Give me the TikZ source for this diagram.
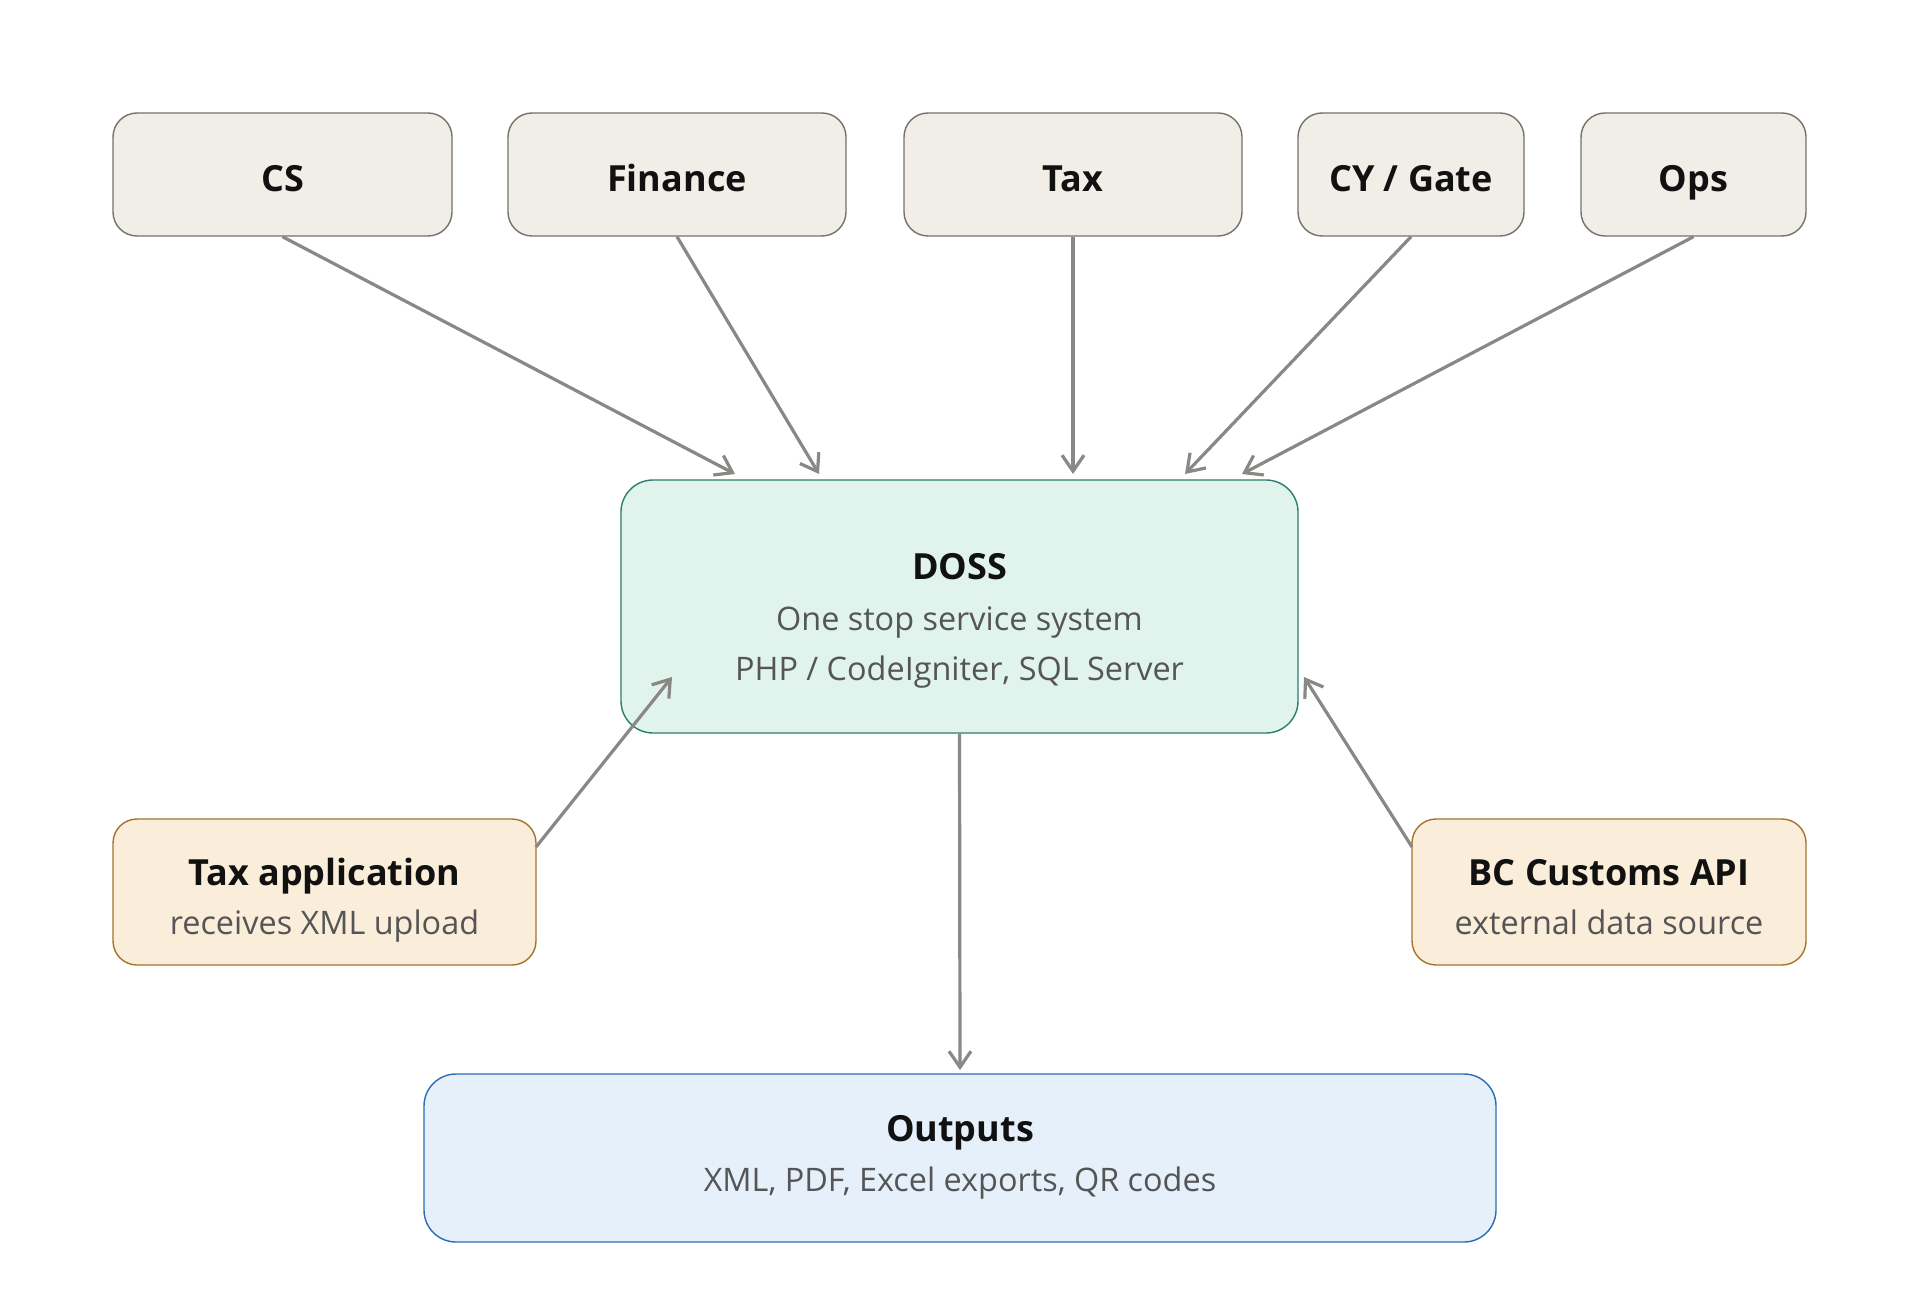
\documentclass[tikz,border=0pt]{standalone}
\usepackage{fontspec}
\setmainfont{Open Sans}
\usetikzlibrary{arrows.meta,calc}
\definecolor{arrowgray}{HTML}{8A8884}
\definecolor{topfill}{HTML}{F1EEE7}
\definecolor{topdraw}{HTML}{75716C}
\definecolor{dossfill}{HTML}{E0F3EC}
\definecolor{dossdraw}{HTML}{2A7F6F}
\definecolor{extfill}{HTML}{FAEDDA}
\definecolor{extdraw}{HTML}{A5732C}
\definecolor{outfill}{HTML}{E6F0FA}
\definecolor{outdraw}{HTML}{2D6DB5}
\definecolor{subtext}{HTML}{555555}
\definecolor{titletext}{HTML}{111111}
\tikzset{
  box/.style={rounded corners=12pt, line width=0.7pt, inner sep=0pt, anchor=center},
  topbox/.style={box, fill=topfill, draw=topdraw, font=\fontsize{18}{22}\selectfont\bfseries, text=titletext, text height=19pt, text depth=1.5pt},
  dossbox/.style={box, fill=dossfill, draw=dossdraw, rounded corners=16pt},
  extbox/.style={box, fill=extfill, draw=extdraw},
  outbox/.style={box, fill=outfill, draw=outdraw, rounded corners=16pt},
  ttl/.style={font=\fontsize{18}{22}\selectfont\bfseries, text=titletext, inner sep=0pt, anchor=base},
  sub/.style={font=\fontsize{16.2}{20}\selectfont, text=subtext, inner sep=0pt, anchor=base},
  conn/.style={draw=arrowgray, line width=1.6pt, -{Straight Barb[length=8pt,width=11pt,line width=1.6pt]}},
}
\begin{document}
\begin{tikzpicture}[x=0.5pt,y=-0.5pt]
\useasboundingbox[fill=white] (0,0) rectangle (1920,1299);
% top boxes
\node[topbox, minimum width=169.5pt, minimum height=61.5pt] (cs) at (282.5,174.5) {CS};
\node[topbox, minimum width=169pt, minimum height=61.5pt] (fin) at (677,174.5) {Finance};
\node[topbox, minimum width=169pt, minimum height=61.5pt] (tax) at (1073,174.5) {Tax};
\node[topbox, minimum width=113pt, minimum height=61.5pt] (cy) at (1411,174.5) {CY / Gate};
\node[topbox, minimum width=112.5pt, minimum height=61.5pt] (ops) at (1693.5,174.5) {Ops};
% DOSS
\node[dossbox, minimum width=338.5pt, minimum height=126.5pt] (doss) at (959.5,606.5) {};
\node[ttl] (dossT) at (959.5,579) {DOSS};
\node[sub] (dossS1) at (959.5,630) {One stop service system};
\node[sub] (dossS2) at (959.5,680.5) {PHP / CodeIgniter, SQL Server};
% externals
\node[extbox, minimum width=211.5pt, minimum height=73pt] (taxapp) at (324.5,892) {};
\node[ttl] (taxappT) at (324.5,885) {Tax application};
\node[sub] (taxappS) at (324.5,934) {receives XML upload};
\node[extbox, minimum width=197pt, minimum height=73pt] (bc) at (1609,892) {};
\node[ttl] (bcT) at (1609,885) {BC Customs API};
\node[sub] (bcS) at (1609,934) {external data source};
% outputs
\node[outbox, minimum width=536pt, minimum height=84pt] (out) at (960,1158) {};
\node[ttl] (outT) at (960,1141) {Outputs};
\node[sub] (outS) at (960,1191) {XML, PDF, Excel exports, QR codes};
% connector end points
\coordinate (eCS) at (735,474);
\coordinate (eFin) at (819,474);
\coordinate (eTax) at (1073,474);
\coordinate (eCY) at (1185,474);
\coordinate (eOps) at (1242,474);
\coordinate (sTA) at (536,847);
\coordinate (eTA) at (672,677);
\coordinate (sBC) at (1412,847);
\coordinate (eBC) at (1304,677);
\coordinate (eOut) at (960,1070);
% connectors
\draw[conn] (cs.south) -- (eCS);
\draw[conn] (fin.south) -- (eFin);
\draw[conn] (tax.south) -- (eTax);
\draw[conn] (cy.south) -- (eCY);
\draw[conn] (ops.south) -- (eOps);
\draw[conn] (sTA) -- (eTA);
\draw[conn] (sBC) -- (eBC);
\draw[conn] (doss.south) -- (eOut);
\end{tikzpicture}
\end{document}
